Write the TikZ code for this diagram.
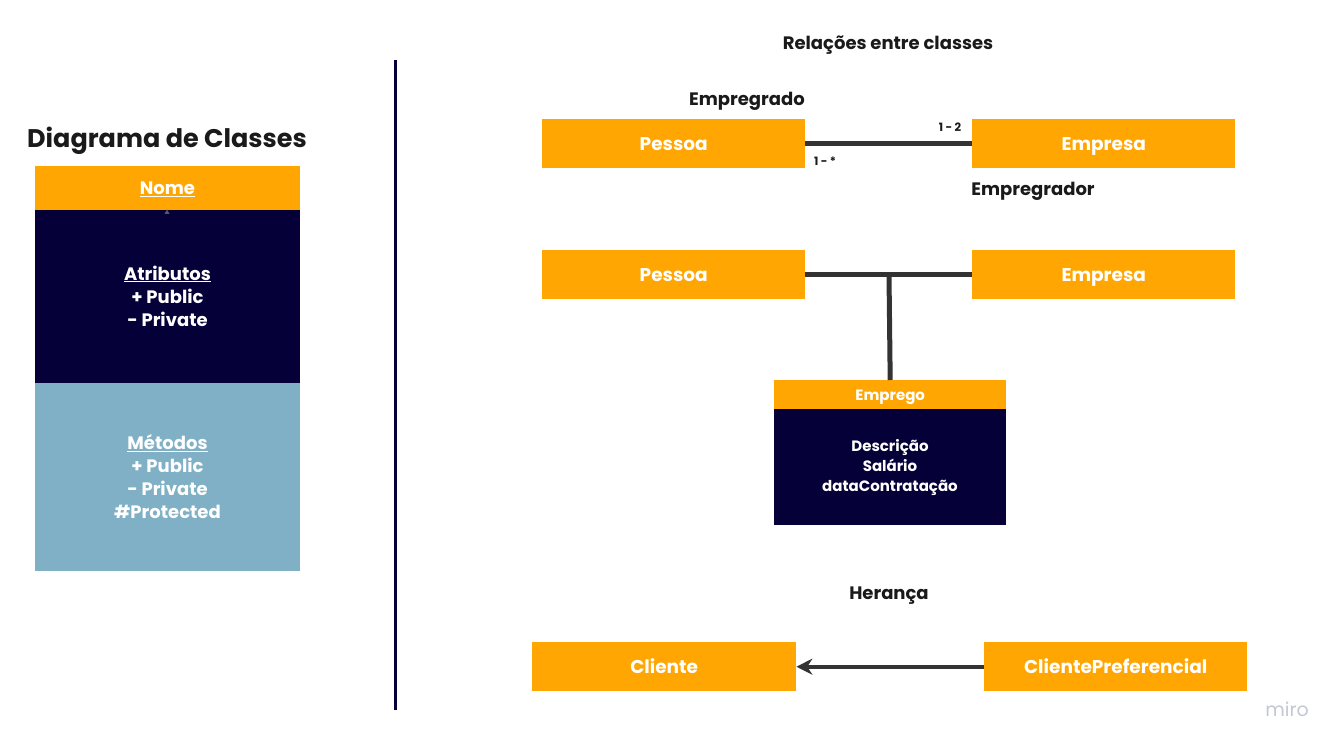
\documentclass[tikz,border=0pt]{standalone}
\usepackage{fontspec}
\setmainfont{Poppins}
\usetikzlibrary{arrows.meta}
\definecolor{morange}{HTML}{FFA602}
\definecolor{mnavy}{HTML}{050038}
\definecolor{mblue}{HTML}{7FB0C5}
\definecolor{mline}{HTML}{333333}
\definecolor{mtext}{HTML}{1A1A1A}
\definecolor{mgrey}{HTML}{C4C8D4}
\tikzset{
  box/.style={fill=morange, draw=none, text=white, font=\fontsize{18.5}{20}\selectfont\bfseries, inner sep=0pt, minimum width=263pt, minimum height=49pt, text height=13pt, text depth=0pt},
  lbl/.style={text=mtext, font=\fontsize{18}{20}\selectfont\bfseries, inner sep=0pt, text height=13pt, text depth=0pt},
  mult/.style={text=mtext, font=\fontsize{11.5}{13}\selectfont\bfseries, inner sep=0pt, text height=8.5pt, text depth=0pt},
  wtext/.style={text=white, align=center, inner sep=0pt},
  conn/.style={draw=mline, line width=5pt},
}
\begin{document}
\begin{tikzpicture}[x=1pt,y=-1pt]
\useasboundingbox[fill=white] (0,0) rectangle (1339,746);
% left legend
\node[text=mtext, font=\fontsize{25.5}{30}\selectfont\bfseries, inner sep=0pt, text height=19pt, text depth=0pt] (title) at (167,138) {Diagrama de Classes};
\fill[mnavy] (35,210) rectangle (300,383);
\fill[mblue] (35,383) rectangle (300,571);
\fill[morange] (35,166) rectangle (300,210);
\node[wtext, font=\fontsize{18}{20}\selectfont\bfseries, text height=13pt, text depth=0pt] (nome) at (167.5,188.5) {\underline{Nome}};
\fill[gray!70!black] (164.5,214) -- (169.5,214) -- (167,209.5) -- cycle;
\node[wtext, font=\fontsize{18}{23}\selectfont\bfseries] (atr) at (167.5,296) {\underline{Atributos}\\+ Public\\- Private};
\node[wtext, font=\fontsize{18}{23}\selectfont\bfseries] (met) at (167.5,477) {\underline{Métodos}\\+ Public\\- Private\\\#Protected};
% divider
\draw[mnavy, line width=3pt] (395,60) -- (395,710);
% right side
\node[lbl] (rel) at (888,43.5) {Relações entre classes};
\node[lbl] (empregado) at (747,99.5) {Empregrado};
\node[box, anchor=north west] (p1) at (542,119) {Pessoa};
\node[box, anchor=north west] (e1) at (972,119) {Empresa};
\draw[conn] (p1.east) -- (e1.west);
\node[mult] (m12) at (950,127.5) {1 - 2};
\node[mult] (m1s) at (825,161) {1 - *};
\node[lbl] (empregador) at (1033,189.5) {Empregrador};
\node[box, anchor=north west] (p2) at (542,250) {Pessoa};
\node[box, anchor=north west] (e2) at (972,250) {Empresa};
\draw[conn] (p2.east) -- (e2.west);
\coordinate (j) at (889,274.5);
\fill[mnavy] (774,409) rectangle (1006,525);
\node[fill=morange, text=white, font=\fontsize{15}{16}\selectfont\bfseries, inner sep=0pt, minimum width=232pt, minimum height=29pt, text height=11pt, text depth=0pt, anchor=north west] (emp) at (774,380) {Emprego};
\draw[conn] (j) -- (emp.north);
\node[wtext, font=\fontsize{15}{20}\selectfont\bfseries] (attrs) at (890,468) {Descrição\\Salário\\dataContratação};
\node[lbl] (heranca) at (889,592.5) {Herança};
\node[box, anchor=north west, minimum width=264pt] (cli) at (532,642) {Cliente};
\node[box, anchor=north west] (clip) at (984,642) {ClientePreferencial};
\draw[draw=mline, line width=4pt, -{Stealth[length=16pt,width=16pt]}] (clip.west) -- (cli.east);
\node[text=mgrey, font=\fontsize{19}{20}\selectfont, inner sep=0pt] (miro) at (1287,709) {miro};
\end{tikzpicture}
\end{document}
